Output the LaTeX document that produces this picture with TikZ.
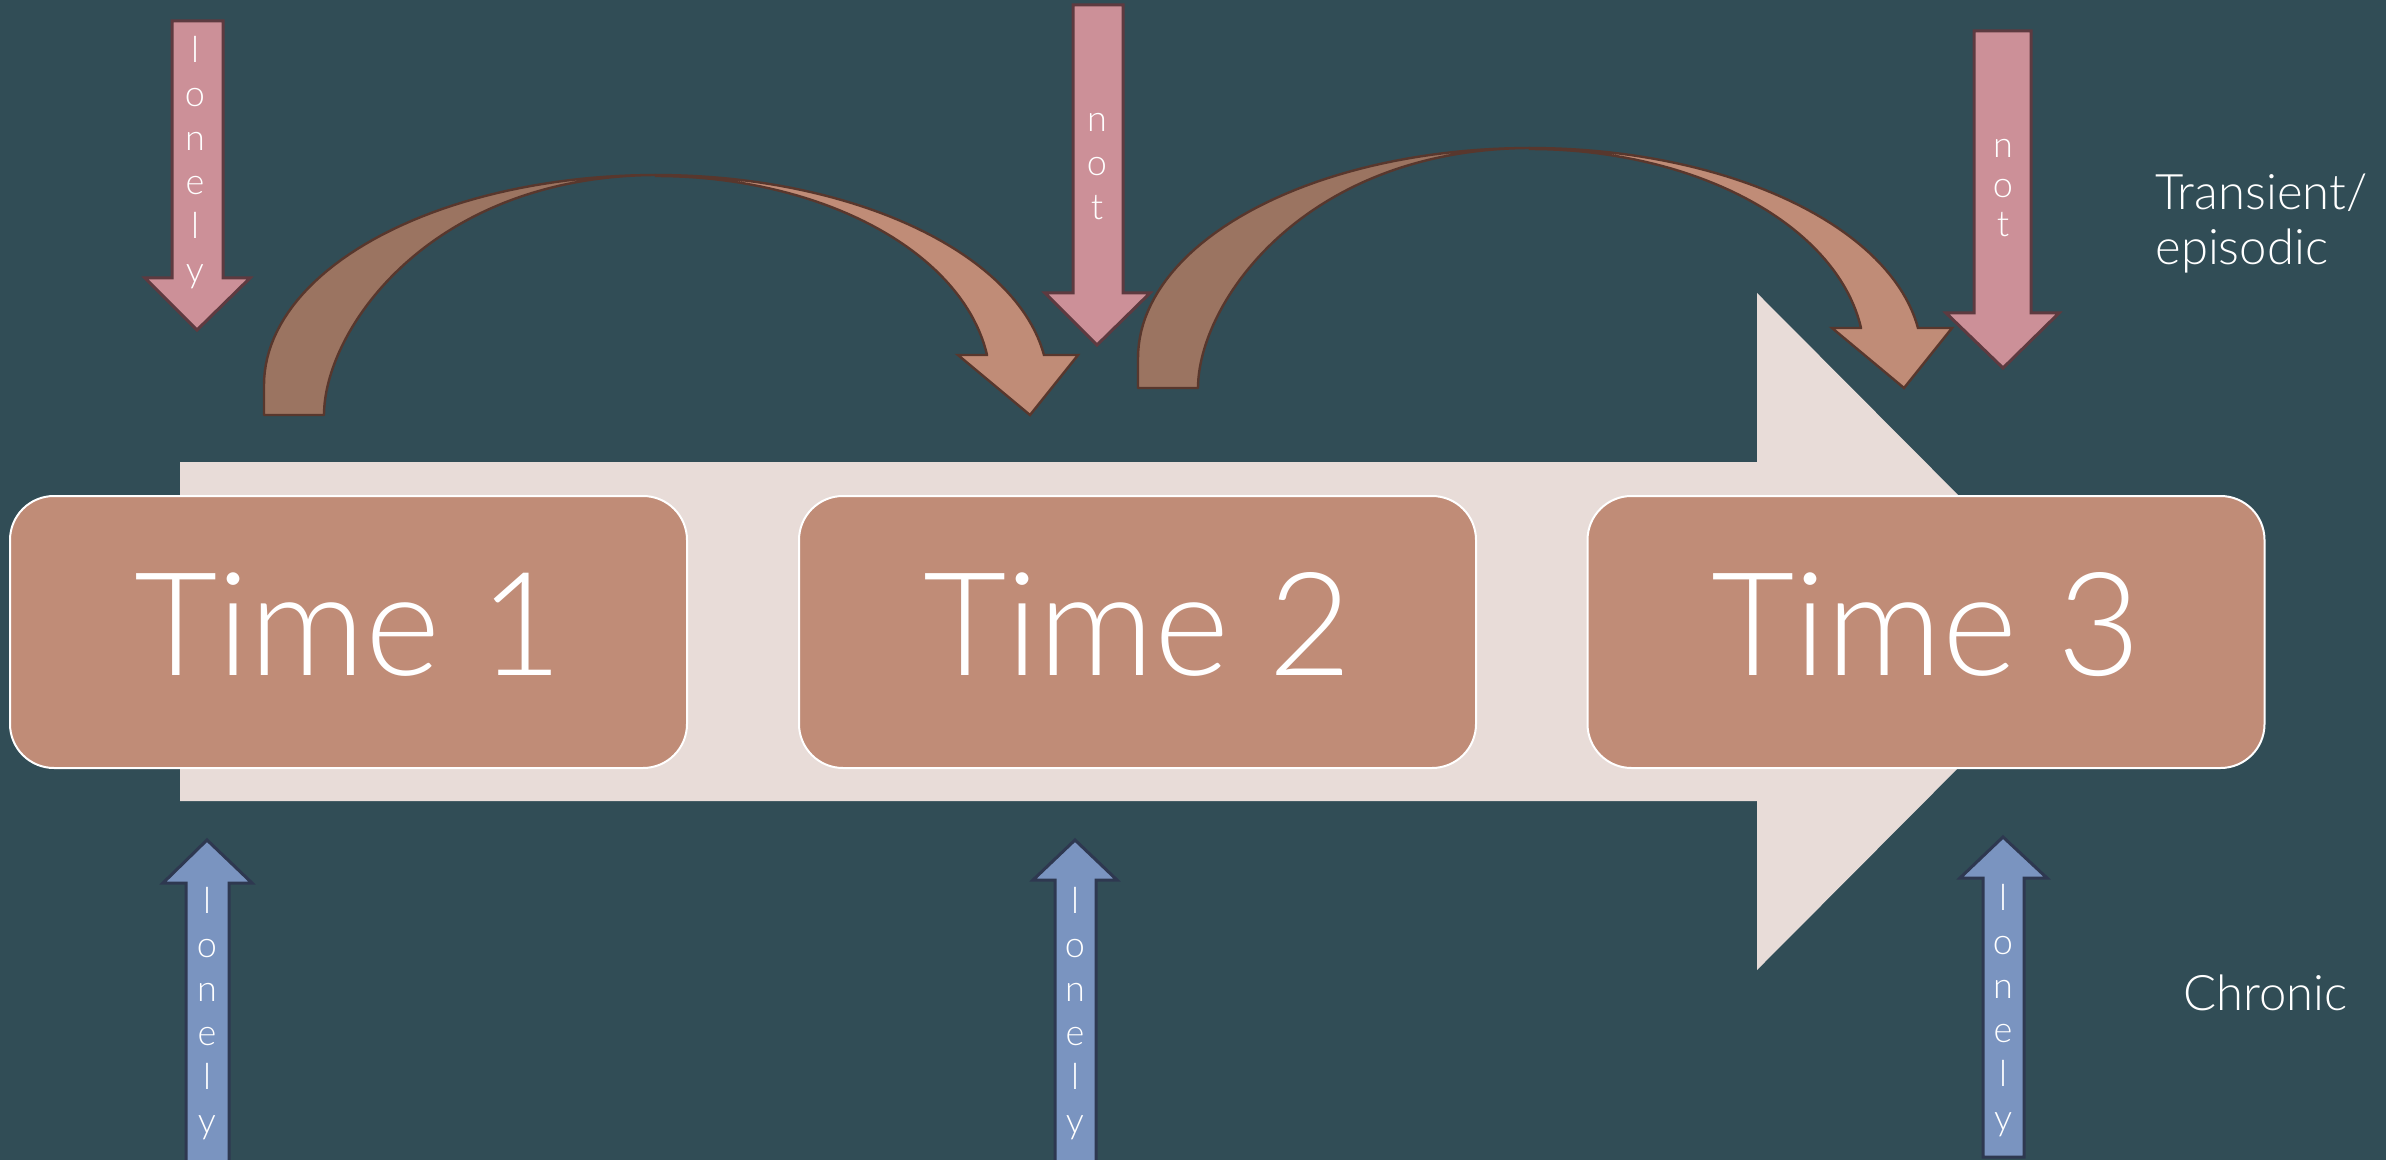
\documentclass[tikz,border=0pt]{standalone}
\usepackage{fontspec}
\setmainfont{Lato Light}
\definecolor{bgc}{RGB}{49,77,86}
\definecolor{bigc}{RGB}{232,220,216}
\definecolor{boxc}{RGB}{192,140,119}
\definecolor{cdarkc}{RGB}{155,116,97}
\definecolor{clightc}{RGB}{192,140,119}
\definecolor{cline}{RGB}{88,55,45}
\definecolor{pinkc}{RGB}{204,144,152}
\definecolor{pinkd}{RGB}{94,58,64}
\definecolor{bluec}{RGB}{122,148,192}
\definecolor{blued}{RGB}{46,56,80}
\newcommand\mycurvarrow{%
  \filldraw[cdark] (264,415) -- (264,385)
    -- plot[domain=-180:-90,samples=50] ({656+392*cos(\x)},{385+210*sin(\x)})
    .. controls (430,176) and (324,330) .. (324,415) -- cycle;
  \filldraw[clight] plot[domain=-90:-8.21,samples=50] ({656+392*cos(\x)},{385+210*sin(\x)})
    -- (1078,355) -- (1030,415) -- (958,355) -- (988,355)
    -- plot[domain=-8.25:-90,samples=50] ({656+334.5*cos(\x)},{385+209*sin(\x)}) -- cycle;
}
\begin{document}
\begin{tikzpicture}[x=0.5pt,y=-0.5pt,
  timebox/.style={draw=white,line width=1pt,fill=boxc,rounded corners=22pt,
    text=white,font=\fontsize{72}{80}\selectfont,inner sep=0pt,text depth=8pt,
    minimum width=338.5pt,minimum height=136pt},
  cdark/.style={fill=cdarkc,draw=cline,line width=1.2pt,line join=round},
  clight/.style={fill=clightc,draw=cline,line width=1.2pt,line join=miter},
  pinkarrow/.style={fill=pinkc,draw=pinkd,line width=1.5pt,line join=miter},
  bluearrow/.style={fill=bluec,draw=blued,line width=1.5pt,line join=miter},
  letter/.style={text=white,font=\fontsize{18}{20}\selectfont,anchor=base,inner sep=0pt},
  sidelabel/.style={text=white,font=\fontsize{24.5}{27.5}\selectfont,anchor=base west,inner sep=0pt,align=left}]
\useasboundingbox (0,0) rectangle (2386,1160);
\clip (0,0) rectangle (2386,1160);
\fill[bgc] (0,0) rectangle (2386,1160);
% big timeline arrow
\fill[bigc] (180,462) -- (1757,462) -- (1757,293) -- (2094,631.5) -- (1757,970) -- (1757,801) -- (180,801) -- cycle;
% time boxes
\node[timebox] (t1) at (348.5,632) {Time 1};
\node[timebox] (t2) at (1137.5,632) {Time 2};
\node[timebox] (t3) at (1926,632) {Time 3};
% curved arrows
\begin{scope}
\mycurvarrow
\end{scope}
\begin{scope}[shift={(874,-27)}]
\mycurvarrow
\end{scope}
% pink down arrows
\filldraw[pinkarrow] (172,21) -- (223,21) -- (223,278) -- (250,278) -- (197,330) -- (145,278) -- (172,278) -- cycle;
\filldraw[pinkarrow] (1073,5) -- (1123,5) -- (1123,293) -- (1150,293) -- (1097,345) -- (1045,293) -- (1073,293) -- cycle;
\filldraw[pinkarrow] (1974,31) -- (2031,31) -- (2031,313) -- (2059,313) -- (2003,368) -- (1946,313) -- (1974,313) -- cycle;
% blue up arrows
\filldraw[bluearrow] (186,1175) -- (186,883) -- (163,883) -- (207,840) -- (252,883) -- (229,883) -- (229,1175) -- cycle;
\filldraw[bluearrow] (1055,1175) -- (1055,880) -- (1033,880) -- (1075,840) -- (1117,880) -- (1096,880) -- (1096,1175) -- cycle;
\filldraw[bluearrow] (1983,1157) -- (1983,878) -- (1960,878) -- (2003,837) -- (2047,878) -- (2024,878) -- (2024,1157) -- cycle;
% letters
\foreach \c [count=\i] in {l,o,n,e,l,y}
  \node[letter] (pa\i) at (195,{63+44*(\i-1)}) {\c};
\foreach \c [count=\i] in {n,o,t}
  \node[letter] (pb\i) at (1097,{132+44*(\i-1)}) {\c};
\foreach \c [count=\i] in {n,o,t}
  \node[letter] (pc\i) at (2003,{158+39.5*(\i-1)}) {\c};
\foreach \c [count=\i] in {l,o,n,e,l,y}
  \node[letter] (ba\i) at (207,{913+44*(\i-1)}) {\c};
\foreach \c [count=\i] in {l,o,n,e,l,y}
  \node[letter] (bb\i) at (1075,{913+44*(\i-1)}) {\c};
\foreach \c [count=\i] in {l,o,n,e,l,y}
  \node[letter] (bc\i) at (2003,{910+44*(\i-1)}) {\c};
% side labels
\node[sidelabel] (trans) at (2155,265) {Transient/\\episodic};
\node[sidelabel] (chron) at (2183,1010) {Chronic};
\end{tikzpicture}
\end{document}
